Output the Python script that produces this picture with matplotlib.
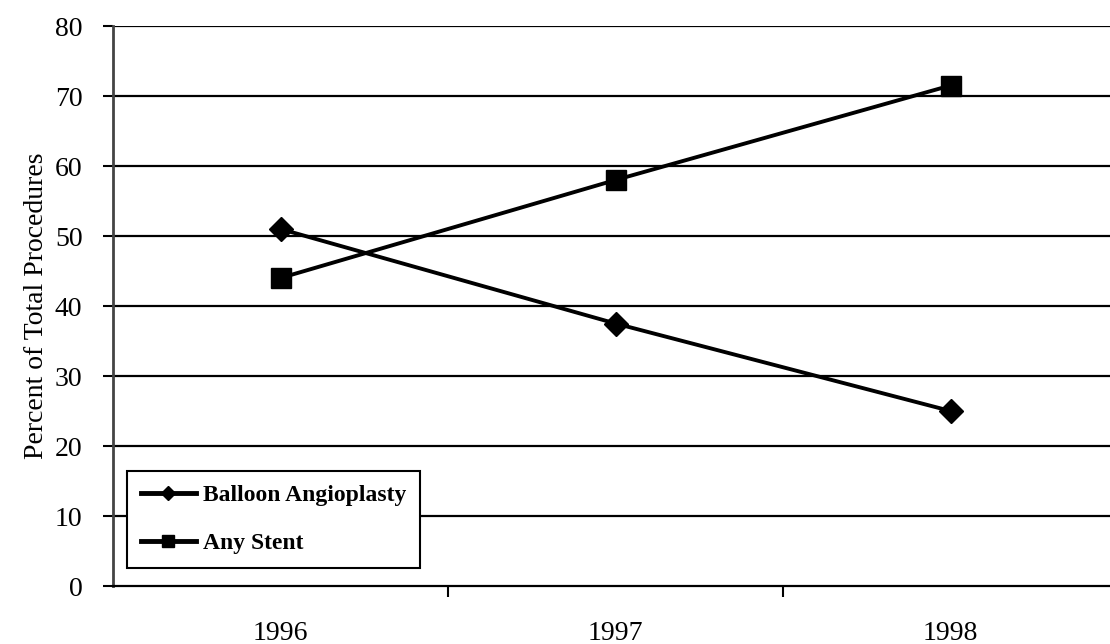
import numpy as np
import matplotlib.pyplot as plt

# Dados
anos = ["1996", "1997", "1998"]
balloon = [51, 37.5, 25]
stent = [44, 58, 71.5]

plt.rcParams['font.family'] = ['Liberation Serif', 'DejaVu Serif']

fig = plt.figure(figsize=(11.1, 6.44), dpi=100)
ax = fig.add_axes([113 / 1110, 58 / 644, 1005 / 1110, 560 / 644])

x = np.arange(len(anos))

# Linhas de grade horizontais
for v in range(10, 81, 10):
    ax.axhline(v, color='black', linewidth=1.6, zorder=1)

ax.plot(x, balloon, color='black', linewidth=2.8, marker='D', markersize=12,
        label="Balloon Angioplasty", zorder=3)
ax.plot(x, stent, color='black', linewidth=2.8, marker='s', markersize=15,
        label="Any Stent", zorder=3)

ax.set_xlim(-0.5, 2.5)
ax.set_ylim(0, 80)
ax.set_yticks(range(0, 81, 10))
ax.set_xticks(x)
ax.set_xticklabels(anos)
ax.set_xticks([0.5, 1.5], minor=True)

ax.tick_params(axis='y', direction='out', length=7, width=1.5, labelsize=20, pad=15)
ax.tick_params(axis='x', which='major', length=0, labelsize=20, pad=25)
ax.tick_params(axis='x', which='minor', direction='out', length=8, width=1.5)

for s in ['top', 'right']:
    ax.spines[s].set_visible(False)
ax.spines['left'].set_color('#444444')
ax.spines['left'].set_linewidth(2)
ax.spines['bottom'].set_linewidth(1.6)

ax.set_ylabel("Percent of Total Procedures", fontsize=20, labelpad=4)

leg = ax.legend(loc='lower left', bbox_to_anchor=(0.014, 0.032), borderaxespad=0,
                fancybox=False, framealpha=1, edgecolor='black',
                prop={'weight': 'bold', 'size': 17}, handlelength=2.3,
                borderpad=0.6, labelspacing=1.1, handletextpad=0.3, markerscale=0.6)
leg.get_frame().set_linewidth(1.5)
leg.set_zorder(5)
for h in leg.get_lines():
    h.set_linewidth(3.5)

fig.savefig("out.png", dpi=100)
